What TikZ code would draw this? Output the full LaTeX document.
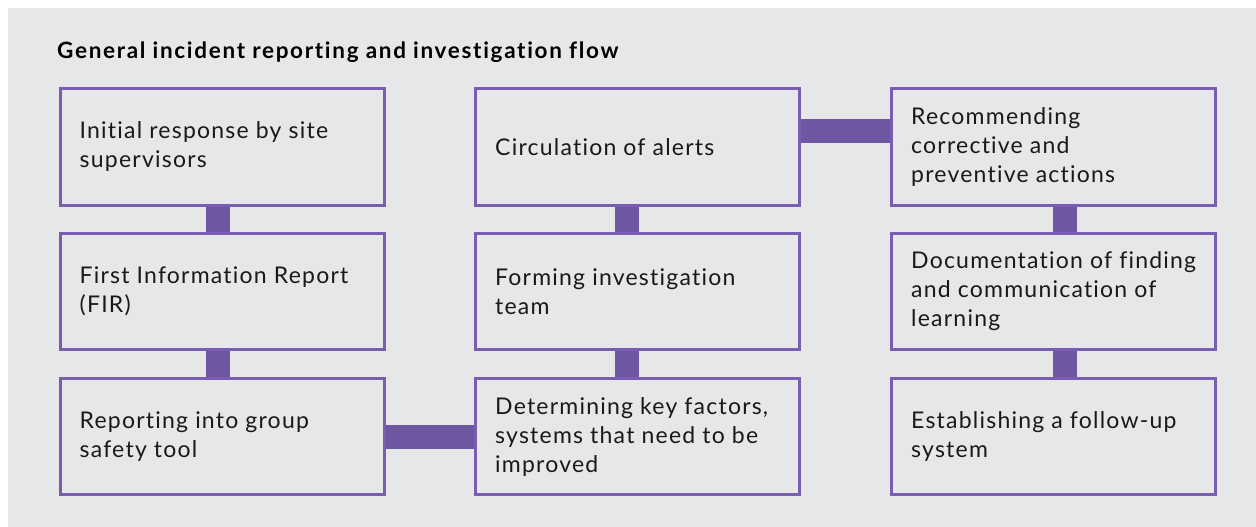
\documentclass[tikz,border=0pt]{standalone}
\usepackage{fontspec}
\setmainfont{Lato}
\newfontfamily\bodyf[LetterSpace=5.3,RawFeature={-liga;-clig;-rlig;-calt;-dlig}]{Lato}
\newfontfamily\titlef[LetterSpace=7.5,RawFeature={-liga;-clig;-rlig;-calt;-dlig}]{Lato}
\definecolor{bg}{HTML}{E6E7E9}
\definecolor{boxc}{HTML}{7A5CB0}
\definecolor{connc}{HTML}{6F56A2}
\begin{document}
\begin{tikzpicture}[x=1pt,y=-1pt,
  stepbox/.style={draw=boxc,line width=3pt,minimum width=324pt,minimum height=116pt,anchor=north west,inner sep=0pt},
  lbl/.style={anchor=west,align=left,inner sep=0pt,font=\bodyf\fontsize{23}{29}\selectfont,text=black!90},
  conn/.style={draw=connc,line width=24pt}]
\useasboundingbox (0,0) rectangle (1256,527);
\fill[bg] (8,8) rectangle (1256,527);
\node[anchor=base west,inner sep=0pt,font=\titlef\bfseries\fontsize{22.5}{26}\selectfont] (title) at (57,59) {General incident reporting and investigation flow};
% boxes
\node[stepbox] (a1) at (58.5,87.5) {};
\node[stepbox] (a2) at (58.5,232) {};
\node[stepbox] (a3) at (58.5,377) {};
\node[stepbox] (b1) at (474,87.5) {};
\node[stepbox] (b2) at (474,232) {};
\node[stepbox] (b3) at (474,377) {};
\node[stepbox] (c1) at (890,87.5) {};
\node[stepbox] (c2) at (890,232) {};
\node[stepbox] (c3) at (890,377) {};
% connectors
\draw[conn] ([xshift=-4.5pt]a1.south) -- ([xshift=-4.5pt]a2.north);
\draw[conn] ([xshift=-4.5pt]a2.south) -- ([xshift=-4.5pt]a3.north);
\draw[conn] (a3.east) -- (b3.west);
\draw[conn] ([xshift=-11pt]b3.north) -- ([xshift=-11pt]b2.south);
\draw[conn] ([xshift=-11pt]b2.north) -- ([xshift=-11pt]b1.south);
\draw[conn] ([yshift=16pt]b1.east) -- ([yshift=16pt]c1.west);
\draw[conn] ([xshift=11pt]c1.south) -- ([xshift=11pt]c2.north);
\draw[conn] ([xshift=11pt]c2.south) -- ([xshift=11pt]c3.north);
% labels
\node[lbl] (ta1) at ([xshift=21pt]a1.west) {Initial response by site\\supervisors};
\node[lbl] (ta2) at ([xshift=21pt]a2.west) {First Information Report\\(FIR)};
\node[lbl] (ta3) at ([xshift=21pt]a3.west) {Reporting into group\\safety tool};
\node[lbl] (tb1) at ([xshift=21pt]b1.west) {Circulation of alerts};
\node[lbl] (tb2) at ([xshift=21pt]b2.west) {Forming investigation\\team};
\node[lbl] (tb3) at ([xshift=21pt]b3.west) {Determining key factors,\\systems that need to be\\improved};
\node[lbl] (tc1) at ([xshift=21pt]c1.west) {Recommending\\corrective and\\preventive actions};
\node[lbl] (tc2) at ([xshift=21pt]c2.west) {Documentation of finding\\and communication of\\learning};
\node[lbl] (tc3) at ([xshift=21pt]c3.west) {Establishing a follow-up\\system};
\end{tikzpicture}
\end{document}
